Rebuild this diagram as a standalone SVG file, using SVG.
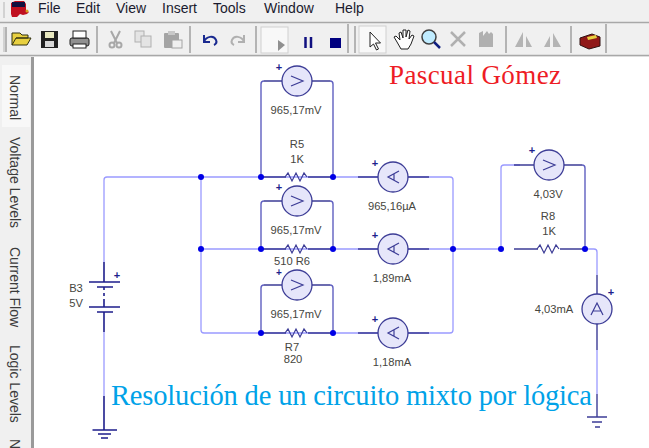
<svg xmlns="http://www.w3.org/2000/svg" width="649" height="448" viewBox="0 0 649 448">
<style>
text{font-family:"Liberation Sans",Arial,sans-serif}
.m{font-size:14px;fill:#1a1a2e}
.t{font-size:11.200px;fill:#464640;text-anchor:middle}
.w{fill:none;stroke:#9a9aff;stroke-width:1.3}
.d{fill:none;stroke:#3c3c96;stroke-width:1.4}
.h{fill:none;stroke:#6060c0;stroke-width:1.4}
.b{fill:none;stroke:#1e1e8c;stroke-width:1.6}
.n{fill:#0000e6}
.c{fill:#e6e6fa;stroke:#3c3c96;stroke-width:1.3}
.g{font-size:11px;font-weight:bold;fill:#1e1e8c;text-anchor:middle}
.s{fill:none;stroke:#3c3c96;stroke-width:1.2}
.v{font-size:14px;fill:#3c3c3c}
.i{fill:none;stroke:#a8a8a8;stroke-width:2}
.sep{stroke:#a0a0a0;stroke-width:1.5}
</style>
<defs>
<path id="rz" d="M-12 0l3-4 4 8 4-8 4 8 4-8 3 4" class="s"/>
<g id="vm"><circle r="15" class="c"/><path d="M-6-5L6 0L-6 5" class="s"/></g>
<g id="am"><circle r="15" class="c"/><path d="M6-6L-5 0L6 6M1-3.500V3.500" class="s"/></g>
</defs>
<g id="chrome">
<rect width="649" height="448" fill="#f0f0f0"/>
<rect x="34" y="57" width="615" height="391" fill="#fff"/>
<path d="M0 22.500H649M0 55.500H649" stroke="#a8a8a8" stroke-width="1.500"/>
<path d="M32.500 57V448" stroke="#9a9a9a" stroke-width="3"/>
<path d="M4 2V18M4 27V52" stroke="#b4b4b4"/>
<rect x="2" y="65" width="28" height="62" fill="#f8f8f8"/>
<path d="M11 14V3l4-2h9l2 3v6l3 2-2 2-4 1-3-1-3 3h-5z" fill="#c01020"/><rect x="12" y="2" width="13" height="5" fill="#101040"/><circle cx="27" cy="11" r="1.500" fill="#d8a020"/>
<text class="m" x="38" y="13">File</text>
<text class="m" x="76" y="13">Edit</text>
<text class="m" x="116" y="13">View</text>
<text class="m" x="162" y="13">Insert</text>
<text class="m" x="213" y="13">Tools</text>
<text class="m" x="264" y="13">Window</text>
<text class="m" x="335" y="13">Help</text>
<path d="M12 45V33h8l2 2h6v3H16l-4 7h15l4-7H16" fill="#e8d040" stroke="#303010"/>
<rect x="41" y="31" width="17" height="17" fill="#202020"/><rect x="45" y="32" width="9" height="6" fill="#e8e8c0"/><rect x="45" y="41" width="9" height="6" fill="#d8d8d8"/>
<rect x="70" y="38" width="19" height="8" rx="2" fill="#909090" stroke="#202020"/><rect x="73" y="31" width="13" height="7" fill="#fff" stroke="#202020"/><rect x="73" y="44" width="13" height="4" fill="#fff" stroke="#202020"/>
<path d="M111 31l6 12M120 31l-6 12" class="i"/><circle cx="112" cy="45" r="2.500" class="i"/><circle cx="119" cy="45" r="2.500" class="i"/>
<rect x="135" y="31" width="9" height="11" fill="#e4e4e4" stroke="#b0b0b0"/><rect x="141" y="36" width="10" height="11" fill="#e4e4e4" stroke="#b0b0b0"/>
<rect x="164" y="33" width="15" height="15" rx="1" fill="#a4a4a4"/><rect x="168" y="31" width="7" height="4" fill="#c8c8c8"/><rect x="172" y="40" width="10" height="8" fill="#f0f0f0" stroke="#a4a4a4"/>
<path d="M204 35v7h6M204 42c2-6 10-7 12-2 1 2 0 4-2 5" fill="none" stroke="#1a2a90" stroke-width="2"/>
<path d="M244 35v7h-6M244 42c-2-6-10-7-12-2-1 2 0 4 2 5" fill="none" stroke="#b0b0b0" stroke-width="2"/>
<rect x="261" y="27" width="27" height="26" fill="#f8f8f8" stroke="#d0d0d0"/>
<path d="M278 40l7 5-7 6z" fill="#909090"/>
<path d="M305.500 37v11M311 37v11" stroke="#101080" stroke-width="2.500"/>
<rect x="330" y="38" width="11" height="10" fill="#000080"/>
<rect x="359" y="26" width="27" height="27" fill="#f8f8f8" stroke="#d0d0d0"/>
<path d="M370 32v15l3.500-3 3 6 2-1-3-6h5z" fill="#fff" stroke="#202020"/>
<path d="M397 42l-3-5 2-1 4 4-1-7 2-1 2 6 0-8h3v7l2-7 2 1-1 8 3-4 2 1-3 8-3 5h-7z" fill="#fff" stroke="#202020"/>
<circle cx="429" cy="37" r="7" fill="#c0ecff" stroke="#404040" stroke-width="1.500"/><path d="M434 42l6 6" stroke="#102080" stroke-width="2.500"/>
<path d="M451 32l14 14M465 32l-14 14" stroke="#b0b0b0" stroke-width="2.500"/>
<path d="M479 47V33l4-2v5l4-5 2 3 2-2 2 2v13z" fill="#b0b0b0"/>
<path d="M515 47l8-15v15zM526 47V36l6 11z" fill="#b4b4b4"/>
<path d="M544 47l6-11v11zM553 47V33l8 14z" fill="#b4b4b4"/>
<path d="M580 38l12-4 8 3v9l-11 3-9-4z" fill="#901818" stroke="#301010"/><path d="M587 37l9-2 1 3-9 2z" fill="#e8d040"/>
<path class="sep" d="M6 27V52M97 26V53M190 26V53M256 26V53M348 24V53M355 26V53M506 26V53M571 26V53M606 24V53"/>
<g class="v">
<text transform="translate(10,75) rotate(90)">Normal</text>
<text transform="translate(10,137) rotate(90)">Voltage Levels</text>
<text transform="translate(10,247) rotate(90)">Current Flow</text>
<text transform="translate(10,345) rotate(90)">Logic Levels</text>
<text transform="translate(10,439) rotate(90)">N</text>
</g>
</g>
<g id="connectors">
<path class="w" d="M104 262V180q0-3 3-3H450q3 0 3 3V330q0 3-3 3H204q-3 0-3-3V177"/>
<path class="w" d="M201 249H501M104 332V396"/>
<path class="w" d="M501 249V168q0-3 3-3H520M585 249H594q3 0 3 3V275"/>
<path class="h" d="M261 177V84q0-3 3-3M333 177V84q0-3-3-3M261 249V204q0-3 3-3M333 249V204q0-3-3-3M261 333V288q0-3 3-3M333 333V288q0-3-3-3M585 249V168q0-3-3-3"/>
<path class="d" d="M264 81H330M264 201H330M264 285H330"/>
<path class="d" d="M261 177H286M308 177H333M261 249H286M308 249H333M261 333H286M308 333H333"/>
<path class="d" d="M358 177H429M358 249H429M358 333H429"/>
<path class="d" d="M514 165H582M514 249H538M560 249H585M597 275V350"/>
<path class="w" d="M597 350V394"/>
<path class="d" d="M597 394V417"/>
<path class="b" d="M104 262V282M104 287V290M104 293V296M104 299V307M104 312V332M104 396V430"/>
</g>
<g id="B3"><path class="b" d="M89 282H120M97 287H113M89 307H120M97 312H113"/>
<text class="g" x="117" y="279">+</text>
<text class="t" x="76" y="292">B3</text><text class="t" x="76" y="307">5V</text></g>
<g id="G1"><path class="b" d="M92.500 430H117M98 434H111M101 438H108"/></g>
<g id="G2"><path class="d" d="M587 417H607M592 422H602M595 427H600"/></g>
<g id="R5"><use href="#rz" x="297" y="177"/><text class="t" x="297" y="148">R5</text><text class="t" x="297" y="163">1K</text></g>
<g id="R6"><use href="#rz" x="297" y="249"/><text class="t" x="292" y="265">510  R6</text></g>
<g id="R7"><use href="#rz" x="297" y="333"/><text class="t" x="292" y="351">R7</text><text class="t" x="293" y="363">820</text></g>
<g id="R8"><use href="#rz" x="549" y="249"/><text class="t" x="548" y="220">R8</text><text class="t" x="549" y="235">1K</text></g>
<g id="V1"><use href="#vm" x="297" y="81"/><text class="g" x="279" y="71">+</text><text class="t" x="296" y="114">965,17mV</text></g>
<g id="V2"><use href="#vm" x="297" y="201"/><text class="g" x="279" y="191">+</text><text class="t" x="296" y="234">965,17mV</text></g>
<g id="V3"><use href="#vm" x="297" y="285"/><text class="g" x="279" y="276" style="font-size:10px">+</text><text class="t" x="296" y="318">965,17mV</text></g>
<g id="V4"><use href="#vm" x="549" y="165"/><text class="g" x="532" y="154">+</text><text class="t" x="548" y="198">4,03V</text></g>
<g id="A1"><use href="#am" x="393" y="177"/><text class="g" x="375" y="167">+</text><text class="t" x="392" y="210">965,16µA</text></g>
<g id="A2"><use href="#am" x="393" y="249"/><text class="g" x="375" y="239">+</text><text class="t" x="392" y="282">1,89mA</text></g>
<g id="A3"><use href="#am" x="393" y="333"/><text class="g" x="375" y="323">+</text><text class="t" x="392" y="366">1,18mA</text></g>
<g id="A4"><circle cx="597" cy="309" r="15" class="c"/><path class="s" d="M591 315L597 303L603 315M593.500 311H600.500"/><text class="g" x="611" y="296">+</text><text class="t" x="554" y="313">4,03mA</text></g>
<g id="nodes" class="n">
<circle cx="201" cy="177" r="3"/><circle cx="261" cy="177" r="3"/><circle cx="333" cy="177" r="3"/>
<circle cx="201" cy="249" r="3"/><circle cx="261" cy="249" r="3"/><circle cx="333" cy="249" r="3"/><circle cx="453" cy="249" r="3"/><circle cx="501" cy="249" r="3"/><circle cx="585" cy="249" r="3"/>
<circle cx="261" cy="333" r="3"/><circle cx="333" cy="333" r="3"/>
</g>
<text x="389" y="84" font-size="27" style="font-family:'Liberation Serif',serif" fill="#ee1c25" textLength="172">Pascual Gómez</text>
<text x="111" y="405" font-size="28.500" style="font-family:'Liberation Serif',serif" fill="#00a2e8" textLength="481">Resolución de un circuito mixto por lógica</text>
</svg>
